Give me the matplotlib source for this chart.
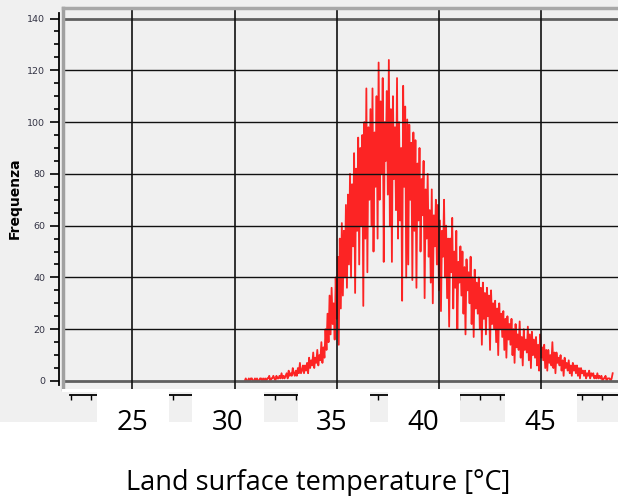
import numpy as np
import matplotlib
matplotlib.use("Agg")
import matplotlib.pyplot as plt
from matplotlib.patches import Rectangle
from matplotlib.ticker import MultipleLocator, FixedLocator

W, H = 618, 496

# Frequency histogram of land surface temperature (bins of 0.05 °C from 30.5 °C)
bin_start = 30.5
bin_width = 0.05
frequency = [
    0, 1, 0, 0, 1, 0, 1, 1, 0, 0, 1, 0, 1, 0, 0, 1, 1, 0, 1, 0,                  # 30.5
    1, 0, 1, 1, 2, 0, 1, 1, 2, 1, 0, 2, 1, 1, 2, 1, 3, 1, 2, 1,                  # 31.5
    2, 3, 1, 4, 2, 3, 2, 5, 3, 2, 4, 2, 5, 3, 7, 3, 4, 6, 3, 6,                  # 32.5
    4, 7, 3, 9, 5, 8, 6, 11, 5, 9, 7, 12, 6, 10, 8, 15, 7, 13, 9, 20,            # 33.5
    12, 26, 15, 33, 18, 36, 22, 30, 16, 40, 24, 48, 14, 55, 28, 61, 33, 58, 40, 68,      # 34.5
    36, 72, 45, 80, 40, 76, 52, 88, 34, 82, 58, 94, 45, 90, 60, 95, 29, 100, 55, 113,    # 35.5
    42, 98, 70, 105, 60, 113, 50, 96, 75, 110, 55, 123, 70, 108, 80, 117, 46, 100, 85, 112,  # 36.5
    72, 124, 60, 105, 46, 110, 78, 98, 66, 117, 55, 100, 62, 90, 31, 114, 75, 106, 40, 101,  # 37.5
    45, 99, 70, 92, 39, 96, 58, 93, 36, 84, 62, 90, 50, 78, 64, 85, 32, 74, 55, 80,      # 38.5
    48, 66, 38, 74, 30, 64, 52, 70, 45, 68, 35, 62, 27, 58, 48, 70, 40, 60, 32, 55,      # 39.5
    21, 55, 42, 63, 28, 50, 36, 58, 20, 46, 38, 52, 33, 50, 26, 44, 18, 47, 35, 42,      # 40.5
    30, 48, 22, 40, 17, 43, 28, 38, 26, 40, 20, 36, 14, 38, 24, 34, 18, 36, 25, 33,      # 41.5
    12, 35, 22, 30, 20, 31, 15, 28, 10, 30, 20, 26, 17, 27, 12, 24, 9, 25, 16, 22,       # 42.5
    14, 24, 10, 20, 7, 22, 13, 18, 12, 23, 9, 17, 6, 20, 12, 16, 11, 21, 8, 18,          # 43.5
    5, 19, 10, 16, 9, 17, 6, 14, 4, 18, 9, 13, 8, 14, 5, 12, 4, 12, 7, 10,               # 44.5
    6, 15, 5, 11, 3, 11, 7, 9, 6, 10, 4, 8, 2, 9, 5, 7, 4, 8, 3, 6,                      # 45.5
    2, 7, 4, 6, 3, 6, 2, 5, 1, 5, 3, 4, 2, 4, 1, 3, 2, 4, 1, 3,                          # 46.5
    2, 3, 1, 2, 1, 3, 1, 2, 1, 2, 0, 1, 1, 2, 0, 1, 1, 1, 0, 1,                          # 47.5
    3,                                                                           # 48.5
]
temperature = bin_start + bin_width * np.arange(len(frequency))

x_grid = [25, 30, 35, 40, 45]
x_labels = ["25", "30", "35", "40", "45"]
y_ticks = [0, 20, 40, 60, 80, 100, 120, 140]


def fx(px):
    return px / W


def fy(py):
    return 1 - py / H


fig = plt.figure(figsize=(W / 100, H / 100), dpi=100, facecolor="white")

# light grey panel behind the chart
fig.add_artist(Rectangle((0, fy(421.5)), 1, 421.5 / H, transform=fig.transFigure,
                         facecolor="#f0f0f0", edgecolor="none", zorder=-5))

ax = fig.add_axes([fx(63), fy(389), fx(618 - 63), (389 - 8) / H])
ax.set_facecolor("#f0f0f0")
ax.set_xlim(21.61, 48.76)
ax.set_ylim(-3.09, 144.06)

ax.plot(temperature, frequency, color="#ff0000", lw=1.3, alpha=0.85, zorder=3)

# grid
for v in y_ticks:
    if v in (0, 140):
        ax.axhline(v, color="#606060", lw=2.0, zorder=4)
    else:
        ax.axhline(v, color="#111111", lw=1.0, zorder=4)
for v in x_grid:
    ax.axvline(v, color="#111111", lw=1.2, zorder=4)

# frame
for s in ("top", "right"):
    ax.spines[s].set_visible(False)
ax.plot([0, 0], [0, 1], transform=ax.transAxes, color="#a0a0a0", lw=2.5,
        clip_on=False, zorder=5)
ax.plot([0, 1], [1, 1], transform=ax.transAxes, color="#a8a8a8", lw=2.5,
        clip_on=False, zorder=5)

# y axis
ax.spines["left"].set_position(("outward", 3))
ax.spines["left"].set_bounds(-1.5, 142)
ax.spines["left"].set_linewidth(1.3)
ax.yaxis.set_major_locator(FixedLocator(y_ticks))
ax.yaxis.set_minor_locator(MultipleLocator(5))
ax.tick_params(axis="y", which="major", length=6.5, width=1.2, direction="out",
               labelsize=6.8, pad=3.4, labelcolor="#333344")
ax.tick_params(axis="y", which="minor", length=3.8, width=1.2, direction="out")
ax.set_ylabel("Frequenza", fontsize=10, fontweight="bold", labelpad=3.5)

# x axis (integer degree ticks, labels drawn separately)
ax.spines["bottom"].set_position(("outward", 4))
ax.spines["bottom"].set_bounds(21.95, 48.76)
ax.spines["bottom"].set_linewidth(1.3)
ax.xaxis.set_major_locator(FixedLocator(list(range(22, 49))))
ax.tick_params(axis="x", which="major", length=3.5, width=1.0, direction="out",
               labelbottom=False)

# white label panels under the axis
fig.add_artist(Rectangle((fx(62), fy(391.5)), fx(618 - 62), 2.5 / H,
                         transform=fig.transFigure, facecolor="white",
                         edgecolor="none", zorder=10))
for x0, x1 in [(97, 169), (192, 264), (298, 370), (388, 460), (505, 577)]:
    fig.add_artist(Rectangle((fx(x0), fy(421.5)), fx(x1 - x0), (421.5 - 391.5) / H,
                             transform=fig.transFigure, facecolor="white",
                             edgecolor="none", zorder=10))

for xc, lab in zip([132, 228, 332, 423, 540], x_labels):
    fig.text(fx(xc), fy(430), lab, ha="center", va="baseline", fontsize=20,
             family="Open Sans", color="black", zorder=11)

fig.text(fx(318.5), fy(490), "Land surface temperature [°C]", ha="center",
         va="baseline", fontsize=19.5, family="Open Sans", color="black", zorder=11)

fig.savefig("out.png", dpi=100, facecolor=fig.get_facecolor())
